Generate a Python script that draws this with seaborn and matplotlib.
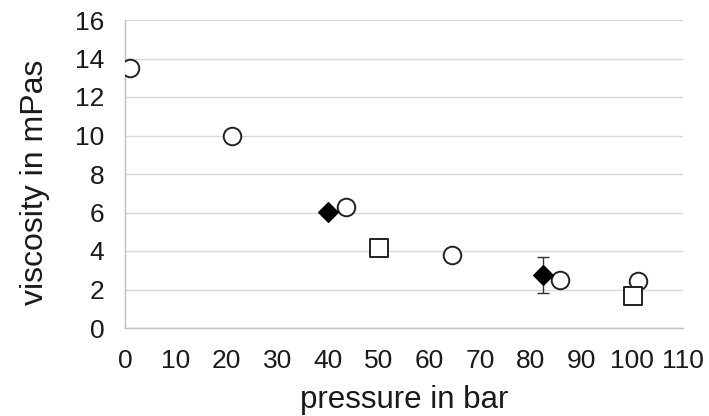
import matplotlib
matplotlib.use("Agg")
import matplotlib.pyplot as plt
import seaborn as sns
import pandas as pd

circle_x = [1, 21, 43.5, 64.5, 85.8, 101.2]
circle_y = [13.5, 9.95, 6.3, 3.8, 2.5, 2.45]
diamond_x = [40, 82.4]
diamond_y = [6.02, 2.75]
diamond_err = [0.0, 0.95]
square_x = [50, 100.2]
square_y = [4.15, 1.65]

sns.set_theme(style="white")
plt.rcParams['font.family'] = ['Liberation Sans', 'DejaVu Sans']

W, H = 709, 416
fig = plt.figure(figsize=(W / 100, H / 100), dpi=100)
x0, x1, y0, y1 = 125, 683, 328, 20
ax = fig.add_axes([x0 / W, 1 - y0 / H, (x1 - x0) / W, (y0 - y1) / H])

df = pd.DataFrame({
    "x": circle_x + diamond_x + square_x,
    "y": circle_y + diamond_y + square_y,
    "kind": ["circle"] * len(circle_x) + ["diamond"] * len(diamond_x) + ["square"] * len(square_x),
})

ax.errorbar(diamond_x, diamond_y, yerr=diamond_err, fmt="none", ecolor="#333333",
            elinewidth=1.0, capsize=4, capthick=1.0, zorder=2)

sns.scatterplot(data=df[df.kind == "circle"], x="x", y="y", marker="o", s=160,
                facecolor="white", edgecolor="#222222", linewidth=1.4, ax=ax, zorder=3)
sns.scatterplot(data=df[df.kind == "square"], x="x", y="y", marker="s", s=160,
                facecolor="white", edgecolor="#222222", linewidth=1.4, ax=ax, zorder=3)
sns.scatterplot(data=df[df.kind == "diamond"], x="x", y="y", marker="D", s=100,
                facecolor="black", edgecolor="black", linewidth=1.0, ax=ax, zorder=4)

ax.set_xlim(0, 110)
ax.set_ylim(0, 16)
ax.set_xticks(range(0, 111, 10))
ax.set_yticks(range(0, 17, 2))
ax.yaxis.grid(True, color="#d9d9d9", linewidth=1.0)
ax.set_axisbelow(True)
for s in ["top", "right"]:
    ax.spines[s].set_visible(False)
for s in ["left", "bottom"]:
    ax.spines[s].set_color("#bfbfbf")
    ax.spines[s].set_linewidth(1.0)
ax.tick_params(axis="x", direction="in", length=6, color="#bfbfbf", labelsize=19, pad=15,
               labelcolor="#1a1a1a")
ax.tick_params(axis="y", length=0, labelsize=19, pad=15, labelcolor="#1a1a1a")

ax.set_xlabel("pressure in bar", fontsize=22.5, color="#1a1a1a")
ax.set_ylabel("viscosity in mPas", fontsize=23, color="#1a1a1a")
ax.xaxis.set_label_coords((404 - x0) / (x1 - x0), -(408 - y0) / (y0 - y1))
ax.xaxis.label.set_va("baseline")
ax.xaxis.label.set_ha("center")
ax.yaxis.set_label_coords(-(x0 - 43) / (x1 - x0), (y0 - 182) / (y0 - y1))
ax.yaxis.label.set_rotation_mode("anchor")
ax.yaxis.label.set_va("baseline")
ax.yaxis.label.set_ha("center")

fig.savefig("out.png", dpi=100)
